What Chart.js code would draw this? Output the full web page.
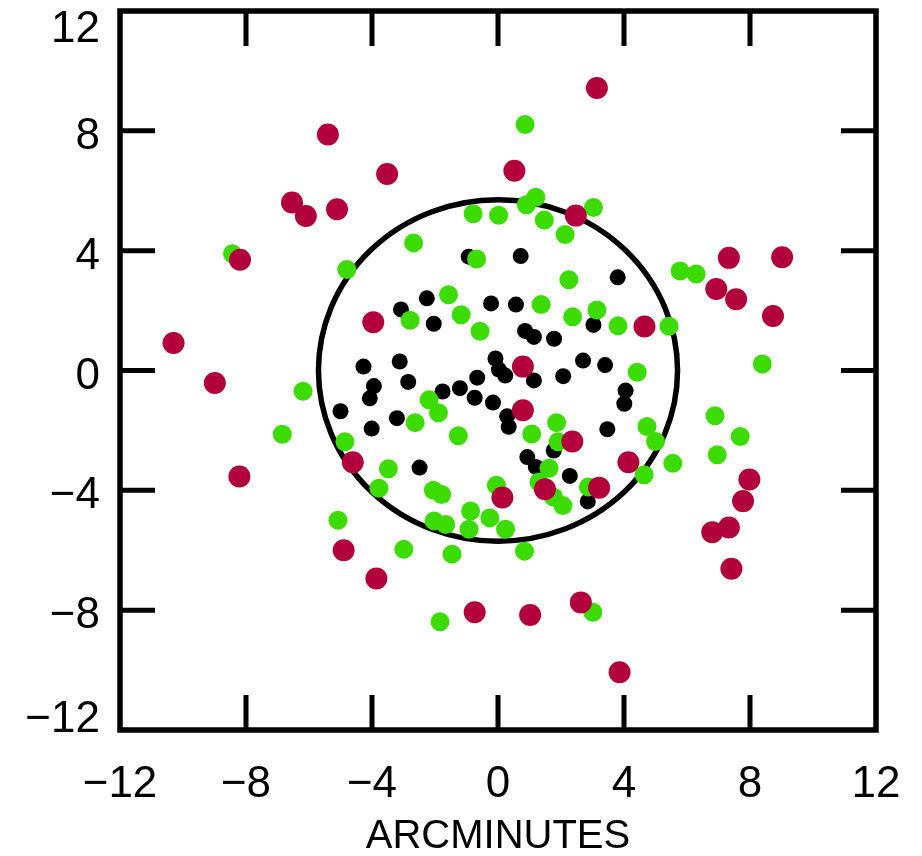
<!DOCTYPE html>
<html>
<head>
<meta charset="utf-8">
<script src="https://cdn.jsdelivr.net/npm/chart.js@4.4.0/dist/chart.umd.min.js"></script>
<style>
html, body { margin: 0; padding: 0; background: #fff; }
#wrap { position: relative; width: 922px; height: 856px; }
</style>
</head>
<body>
<div id="wrap"><canvas id="sky"></canvas></div>
<script>
"use strict";

// Offsets from field centre, arcminutes: [x, y]
var redStars = [
  [3.14, 9.43], [-5.40, 7.88], [-3.52, 6.56], [0.52, 6.67], [-6.54, 5.61],
  [-6.10, 5.16], [-5.11, 5.38], [2.47, 5.17], [-8.19, 3.70], [7.33, 3.76],
  [9.02, 3.78], [6.93, 2.72], [7.56, 2.38], [8.73, 1.82], [4.65, 1.47],
  [-3.96, 1.61], [-10.30, 0.92], [-8.99, -0.42], [0.79, 0.13], [0.79, -1.33],
  [2.36, -2.37], [-4.61, -3.06], [4.14, -3.06], [-8.21, -3.54], [7.98, -3.64],
  [1.49, -3.96], [3.21, -3.91], [0.14, -4.24], [7.78, -4.36], [6.80, -5.40],
  [7.33, -5.24], [-4.90, -6.00], [-3.86, -6.94], [7.41, -6.62], [-0.74, -8.07],
  [1.02, -8.16], [2.63, -7.74], [3.86, -10.07]
];

var greenStars = [
  [0.86, 8.21], [1.20, 5.78], [0.90, 5.53], [-0.79, 5.23], [0.02, 5.18],
  [1.47, 5.02], [3.03, 5.44], [2.13, 4.54], [-2.68, 4.26], [-0.68, 3.72],
  [2.25, 3.03], [-1.57, 2.53], [1.37, 2.20], [3.14, 2.02], [-2.79, 1.68],
  [-1.17, 1.86], [-0.57, 1.31], [2.37, 1.79], [3.81, 1.49], [-8.43, 3.90],
  [-4.80, 3.37], [5.78, 3.32], [6.29, 3.22], [5.43, 1.48], [8.39, 0.22],
  [4.42, -0.06], [-6.19, -0.69], [-6.85, -2.13], [-4.86, -2.38], [-5.08, -5.00],
  [-2.19, -0.98], [-1.89, -1.41], [-2.63, -1.74], [-1.26, -2.18], [-3.48, -3.28],
  [-3.78, -3.93], [-2.05, -4.00], [-1.79, -4.14], [-0.05, -3.83], [1.07, -2.12],
  [1.86, -1.74], [1.91, -2.38], [1.62, -3.26], [1.30, -3.72], [1.76, -4.22],
  [2.06, -4.51], [2.87, -3.89], [-0.87, -4.69], [-0.26, -4.92], [-0.92, -5.30],
  [-2.03, -5.02], [-1.66, -5.14], [0.24, -5.30], [-2.99, -5.97], [-1.46, -6.13],
  [0.84, -6.03], [-1.84, -8.39], [3.01, -8.07], [6.89, -1.51], [7.69, -2.20],
  [6.96, -2.81], [4.73, -1.87], [5.00, -2.37], [5.55, -3.10], [4.64, -3.48]
];

var blackStars = [
  [-0.93, 3.80], [0.72, 3.82], [3.80, 3.11], [-2.26, 2.41], [-3.08, 2.04],
  [-2.04, 1.56], [-0.22, 2.24], [0.57, 2.20], [0.86, 1.32], [1.14, 1.12],
  [1.78, 1.06], [3.03, 1.52], [-4.27, 0.13], [-3.12, 0.30], [-0.08, 0.40],
  [0.03, 0.03], [0.23, -0.17], [2.70, 0.33], [3.40, 0.18], [-0.66, -0.24],
  [1.14, -0.33], [2.07, -0.19], [-2.85, -0.38], [-3.94, -0.52], [-4.07, -0.93],
  [-5.00, -1.36], [-1.76, -0.70], [-1.21, -0.59], [-0.74, -0.91], [-0.16, -1.07],
  [0.29, -1.53], [0.34, -1.88], [-3.21, -1.59], [-4.01, -1.94], [4.05, -0.67],
  [4.01, -1.11], [3.47, -1.96], [0.93, -2.89], [1.20, -3.22], [1.77, -2.67],
  [2.28, -3.52], [2.85, -4.37], [-2.49, -3.24]
];

var AXIS_TICKS = [-12, -8, -4, 0, 4, 8, 12];
var AXIS_MIN = -12, AXIS_MAX = 12;
var FIELD_RADIUS = 5.7;   // arcmin
var X_TITLE = "ARCMINUTES";

var FONT = '"Liberation Sans", Arial, sans-serif';

function toXY(list) {
  return list.map(function(p) { return { x: p[0], y: p[1] }; });
}

function fmt(v) {
  return v < 0 ? "\u2212" + Math.abs(v) : String(v);
}

// Field circle under the stars; box, inward ticks and labels on top.
var framePlugin = {
  id: "frame",
  beforeDatasetsDraw: function(chart) {
    var ctx = chart.ctx, xs = chart.scales.x, ys = chart.scales.y;
    var cx = xs.getPixelForValue(0), cy = ys.getPixelForValue(0);
    var rx = Math.abs(xs.getPixelForValue(FIELD_RADIUS) - cx);
    var ry = Math.abs(ys.getPixelForValue(FIELD_RADIUS) - cy);
    ctx.save();
    ctx.strokeStyle = "#000";
    ctx.lineWidth = 5.5;
    ctx.beginPath();
    ctx.ellipse(cx, cy, rx, ry, 0, 0, Math.PI * 2);
    ctx.stroke();
    ctx.restore();
  },
  afterDatasetsDraw: function(chart) {
    var ctx = chart.ctx, a = chart.chartArea;
    var xs = chart.scales.x, ys = chart.scales.y;
    var tickLen = 35;

    ctx.save();
    ctx.strokeStyle = "#000";
    ctx.lineJoin = "miter";
    ctx.lineWidth = 5.5;
    ctx.strokeRect(a.left, a.top, a.right - a.left, a.bottom - a.top);

    ctx.lineWidth = 5;
    ctx.beginPath();
    AXIS_TICKS.forEach(function(v) {
      if (v === AXIS_MIN || v === AXIS_MAX) return;
      var px = xs.getPixelForValue(v), py = ys.getPixelForValue(v);
      ctx.moveTo(px, a.bottom); ctx.lineTo(px, a.bottom - tickLen);
      ctx.moveTo(px, a.top); ctx.lineTo(px, a.top + tickLen);
      ctx.moveTo(a.left, py); ctx.lineTo(a.left + tickLen, py);
      ctx.moveTo(a.right, py); ctx.lineTo(a.right - tickLen, py);
    });
    ctx.stroke();

    ctx.fillStyle = "#000";
    ctx.font = "44px " + FONT;
    ctx.textBaseline = "alphabetic";

    // bottom tick labels
    ctx.textAlign = "center";
    AXIS_TICKS.forEach(function(v) {
      ctx.fillText(fmt(v), xs.getPixelForValue(v), a.bottom + 67);
    });

    // left tick labels, end labels pulled inside the box
    ctx.textAlign = "right";
    AXIS_TICKS.forEach(function(v) {
      var base = 18;
      if (v === AXIS_MAX) base = 31;
      if (v === AXIS_MIN) base = 2;
      ctx.fillText(fmt(v), a.left - 20, ys.getPixelForValue(v) + base);
    });

    ctx.font = "40px " + FONT;
    ctx.textAlign = "center";
    ctx.fillText(X_TITLE, (a.left + a.right) / 2, a.bottom + 118);
    ctx.restore();
  }
};

function starSet(label, list, color, r) {
  return {
    label: label,
    data: toXY(list),
    backgroundColor: color,
    borderWidth: 0,
    pointRadius: r,
    pointHoverRadius: r
  };
}

new Chart(document.getElementById("sky").getContext("2d"), {
  type: "scatter",
  data: {
    // first dataset is drawn on top
    datasets: [
      starSet("red", redStars, "#b1003c", 11),
      starSet("green", greenStars, "#3ddc00", 9.5),
      starSet("black", blackStars, "#000000", 8)
    ]
  },
  options: {
    responsive: true,
    maintainAspectRatio: false,
    animation: false,
    layout: { padding: { left: 120, top: 11, right: 46, bottom: 126 } },
    plugins: { legend: { display: false }, tooltip: { enabled: false } },
    events: [],
    scales: {
      x: { type: "linear", min: AXIS_MIN, max: AXIS_MAX, display: false },
      y: { type: "linear", min: AXIS_MIN, max: AXIS_MAX, display: false }
    }
  },
  plugins: [framePlugin]
});
</script>
</body>
</html>
